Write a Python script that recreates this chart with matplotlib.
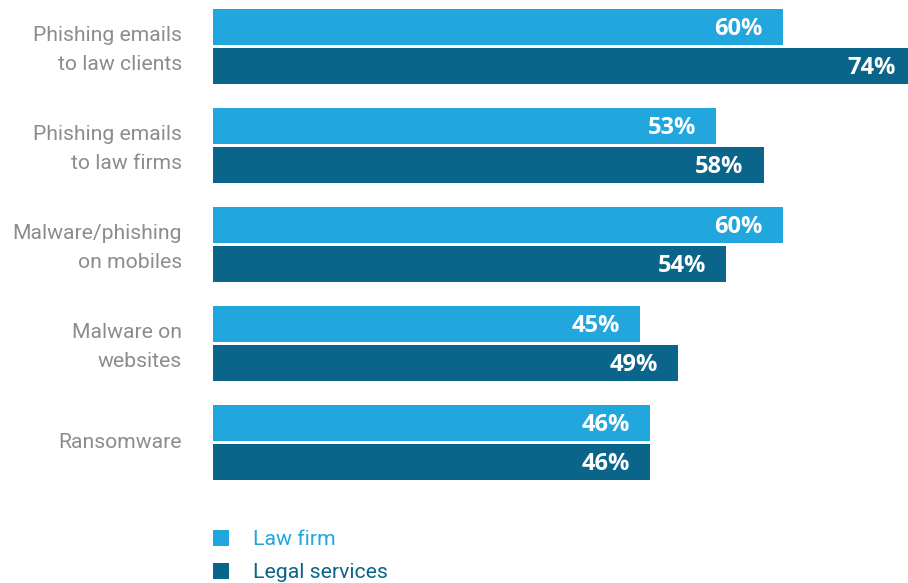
import matplotlib
matplotlib.use("Agg")
import matplotlib.pyplot as plt
import numpy as np

categories = [
    "Phishing emails\nto law clients",
    "Phishing emails\nto law firms",
    "Malware/phishing\non mobiles",
    "Malware on\nwebsites",
    "Ransomware",
]
law_firm = [60, 53, 60, 45, 46]
legal_services = [74, 58, 54, 49, 46]
series_names = ["Law firm", "Legal services"]

light_blue = "#22A6DE"
dark_blue = "#0B6489"
grey = "#8C8C8C"

plt.rcParams["font.family"] = ["Roboto", "DejaVu Sans"]

fig = plt.figure(figsize=(9.08, 5.83), dpi=100)
ax = fig.add_axes([0.2346, 0.1731, 0.7654, 0.8151])

y = np.arange(len(categories))
h = 0.364
off = 0.197

b1 = ax.barh(y - off, law_firm, height=h, color=light_blue, label=series_names[0])
b2 = ax.barh(y + off, legal_services, height=h, color=dark_blue, label=series_names[1])

ax.set_xlim(0, 73.2)
ax.set_ylim(4.4, -0.4)
ax.axis("off")

# value labels inside the bar ends
for bars, vals in [(b1, law_firm), (b2, legal_services)]:
    for bar, v in zip(bars, vals):
        ax.annotate(f"{v}%", (v, bar.get_y() + bar.get_height() / 2),
                    xytext=(-20, -8), textcoords="offset pixels",
                    ha="right", va="baseline", color="white",
                    fontsize=17, fontweight="bold", family="Open Sans",
                    annotation_clip=False)

# category names to the left of each group (two-line names sit a bit lower)
trans = matplotlib.transforms.blended_transform_factory(ax.transAxes, ax.transData)
for yi, name in zip(y, categories):
    dy = 0.035 * name.count("\n")
    ax.text(-31 / 695, yi + dy, name, transform=trans, ha="right", va="center",
            color=grey, fontsize=15.2, linespacing=1.62)

leg = fig.legend(handles=[b1, b2], loc="upper left",
                 bbox_to_anchor=(0.2346, 0.091), frameon=False,
                 fontsize=15.3, handlelength=0.75, handleheight=0.75,
                 handletextpad=1.14, labelspacing=0.65, borderpad=0,
                 borderaxespad=0)
for t, c in zip(leg.get_texts(), [light_blue, dark_blue]):
    t.set_color(c)

fig.savefig("out.png", dpi=100)
